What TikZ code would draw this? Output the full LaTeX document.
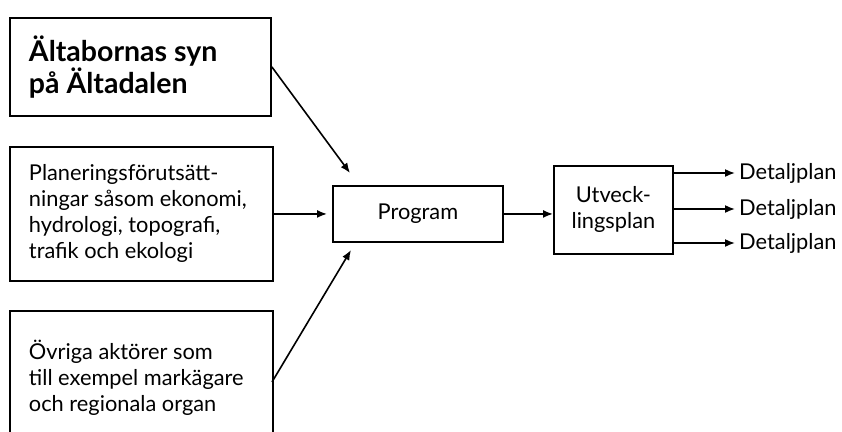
\documentclass[tikz,border=0pt]{standalone}
\usepackage{fontspec}
\setmainfont{Lato}
\usetikzlibrary{arrows.meta}
\begin{document}
\begin{tikzpicture}[x=1pt,y=-1pt,
  box/.style={draw,line width=1.9pt,inner sep=0pt,align=left},
  txt/.style={font=\fontsize{21.8}{26}\selectfont},
  arr/.style={line width=1.6pt,-{Latex[length=10pt,width=8pt]}}]
\useasboundingbox (0,0) rectangle (842,431);
\begin{scope}
\clip (0,0) rectangle (842,431);
\node[box,minimum width=261pt,minimum height=98pt,anchor=north west,
  font=\bfseries\fontsize{28.5}{32}\selectfont] (b1) at (9,17)
  {\parbox{223pt}{Ältabornas syn\\på Ältadalen}};
\node[box,txt,minimum width=263pt,minimum height=134pt,anchor=north west] (b2) at (9,146)
  {\parbox{225pt}{Planeringsförutsätt-\\ningar såsom ekonomi,\\hydrologi, topografi,\\trafik och ekologi}};
\node[box,txt,minimum width=263pt,minimum height=134pt,anchor=north west] (b3) at (9,310)
  {\parbox{225pt}{Övriga aktörer som\\till exempel markägare\\och regionala organ}};
\end{scope}
\node[box,txt,minimum width=170pt,minimum height=56pt,anchor=north west] (prog) at (332,185) {Program};
\node[box,txt,align=center,minimum width=119pt,minimum height=88pt,anchor=north west] (utv) at (553,165) {Utveck-\\lingsplan};
\node[txt,anchor=west,inner sep=0pt] (d1) at (739,173) {Detaljplan};
\node[txt,anchor=west,inner sep=0pt] (d2) at (739,209) {Detaljplan};
\node[txt,anchor=west,inner sep=0pt] (d3) at (739,243) {Detaljplan};
\coordinate (e1) at (350,173);
\coordinate (e3) at (351,250);
\coordinate (s3) at (272,382);
\draw[arr] (b1.east) -- (e1);
\draw[arr,shorten >=5pt] (b2.east) -- (b2.east -| prog.west);
\draw[arr] (s3) -- (e3);
\draw[arr] (prog.east) -- (prog.east -| utv.west);
\draw[arr,shorten >=4pt] (utv.east |- d1) -- (d1.west);
\draw[arr,shorten >=4pt] (utv.east |- d2) -- (d2.west);
\draw[arr,shorten >=4pt] (utv.east |- d3) -- (d3.west);
\end{tikzpicture}
\end{document}
